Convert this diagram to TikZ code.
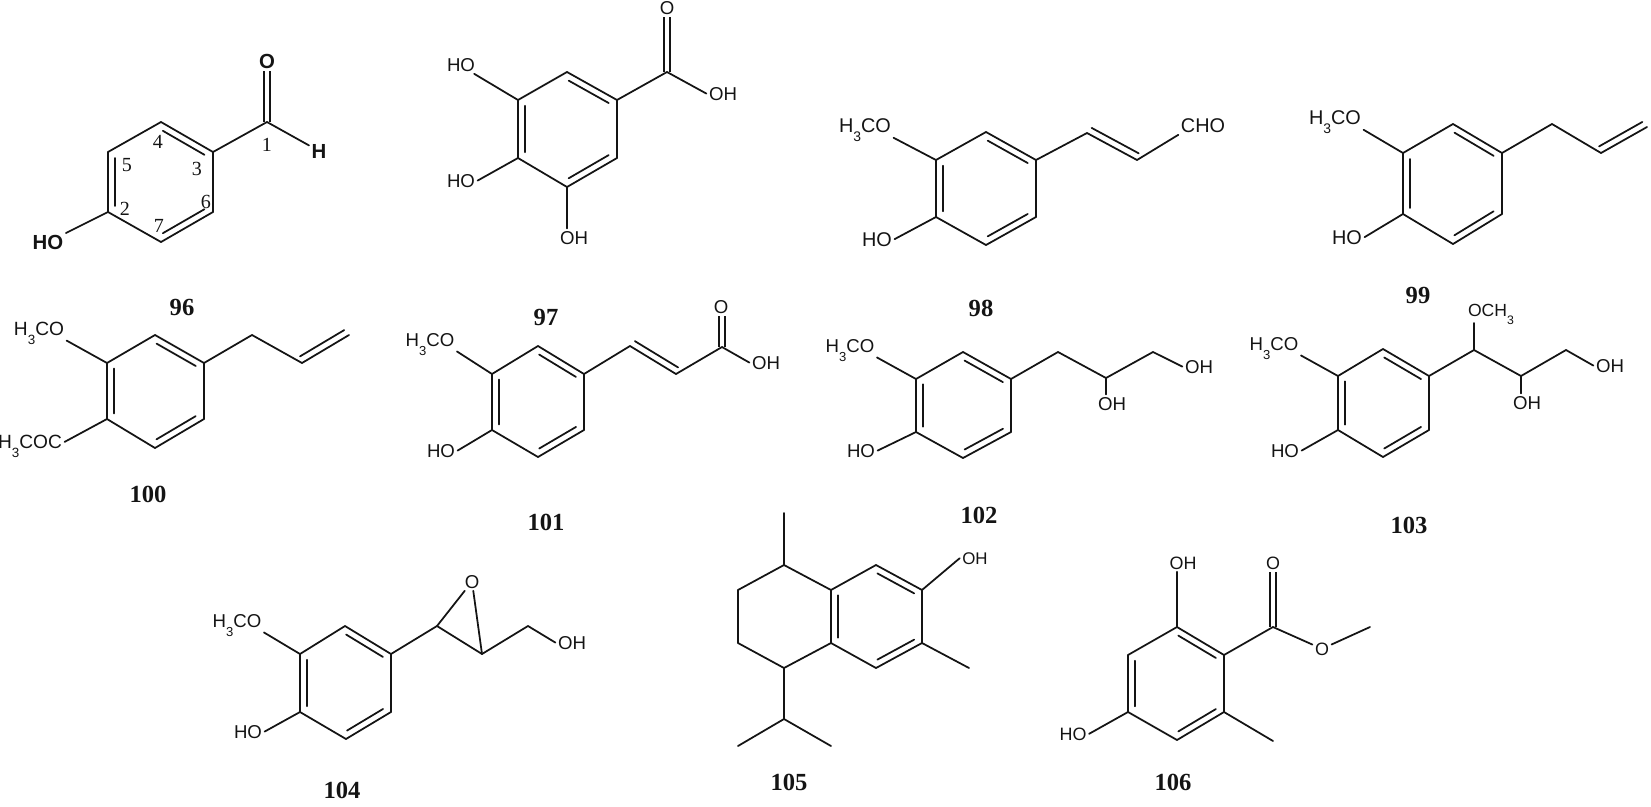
\documentclass[tikz,border=0pt]{standalone}
\usepackage{fontspec}
\setmainfont{Liberation Serif}
\setsansfont{Liberation Sans}
\usetikzlibrary{calc}

\newcommand{\lowthree}{\raisebox{-.5em}{\fontsize{\the\dimexpr.7em\relax}{1pt}\selectfont 3}}
\newcommand{\hco}{H\lowthree CO}
\newcommand{\inbond}[3][.1]{\draw ($(#2)!#1!(#3)!.134cm!-90:(#3)$) -- ($(#3)!#1!(#2)!.134cm!90:(#2)$);}

\begin{document}
\begin{tikzpicture}
  [x=.02cm,y=-.02cm,line width=1pt,line cap=round,color=black!92,
   atom/.style={anchor=base,inner sep=1pt,font=\sffamily\fontsize{#1}{12}\selectfont},
   atom/.default=10.6,
   boldatom/.style={atom=11.4,font=\sffamily\bfseries\fontsize{11.6}{12}\selectfont},
   ringnum/.style={inner sep=0pt,font=\fontsize{11.4}{12}\selectfont},
   compno/.style={inner sep=0pt,font=\bfseries\fontsize{14}{15}\selectfont},
   dblbond/.style={double,double distance=.099cm,line cap=butt}]
  \useasboundingbox (0,0) rectangle (1651,806);

  % ring and chain atoms
  \foreach \n/\x/\y in {A1/161/122,A2/213/152,A3/213/212,A4/161/242,A5/108/212,A6/108/152,A7/267/122}
    \coordinate (\n) at (\x,\y);
  \foreach \n/\x/\y in {B1/567/72,B2/617/100,B3/617/158,B4/567/187,B5/518/158,B6/518/100,B7/667/72}
    \coordinate (\n) at (\x,\y);
  \foreach \n/\x/\y in {C1/986/132,C2/1036/160,C3/1036/217,C4/986/245,C5/936/217,C6/936/160,C7/1087/133,C8/1137/160}
    \coordinate (\n) at (\x,\y);
  \foreach \n/\x/\y in {D1/1453/124,D2/1502/153,D3/1502/214,D4/1453/244,D5/1403/214,D6/1403/153,D7/1552/124,D8/1601/153,D9/1647/127}
    \coordinate (\n) at (\x,\y);
  \foreach \n/\x/\y in {E1/155/335,E2/204/363,E3/204/419,E4/155/448,E5/107/419,E6/107/363,E7/252/335,E8/302/363,E9/349/335}
    \coordinate (\n) at (\x,\y);
  \foreach \n/\x/\y in {F1/538/346,F2/584/374,F3/584/430,F4/538/457,F5/492/430,F6/492/374,F7/630/346,F8/676/374,F9/722/347}
    \coordinate (\n) at (\x,\y);
  \foreach \n/\x/\y in {G1/963/352,G2/1011/379,G3/1011/432,G4/963/458,G5/916/432,G6/916/379,G7/1058/352,G8/1106/378,G9/1153/352}
    \coordinate (\n) at (\x,\y);
  \foreach \n/\x/\y in {H1/1383/349,H2/1429/376,H3/1429/430,H4/1383/457,H5/1338/430,H6/1338/376,H7/1474/350,H8/1521/376,H9/1566/350,H10/1474/323}
    \coordinate (\n) at (\x,\y);
  \foreach \n/\x/\y in {I1/345/626,I2/391/654,I3/391/712,I4/346/739,I5/300/712,I6/300/654,I7/437/626,I8/482/654,I9/528/626}
    \coordinate (\n) at (\x,\y);
  \foreach \n/\x/\y in {J1/784/565,J2/831/590,J3/831/643,J4/784/668,J5/738/643,J6/738/590,J7/876/565,J8/922/590,J9/922/643,J10/876/668,J11/784/513,J12/969/668,J13/784/719,J14/738/746,J15/831/746}
    \coordinate (\n) at (\x,\y);
  \foreach \n/\x/\y in {K1/1177/627,K2/1224/655,K3/1224/712,K4/1177/740,K5/1128/712,K6/1128/655,K7/1273/627,K8/1370/627,K9/1273/741}
    \coordinate (\n) at (\x,\y);

  % atom labels
  \node[boldatom] (Ao) at (267,68) {O};
  \node[boldatom] (Ah) at (319,158) {H};
  \node[boldatom] (Aho) at (48,249) {HO};
  \node[atom] (Bo) at (667,14) {O};
  \node[atom] (Boh) at (723,100) {OH};
  \node[atom] (Bhoa) at (461,71) {HO};
  \node[atom] (Bhob) at (461,187) {HO};
  \node[atom] (Bohb) at (574,244) {OH};
  \node[atom=11.3] (Cmo) at (865,132) {\hco};
  \node[atom=11.3] (Cho) at (877,246) {HO};
  \node[atom=11.3] (Ccho) at (1203,132) {CHO};
  \node[atom=11.3] (Dmo) at (1335,124) {\hco};
  \node[atom=11.3] (Dho) at (1347,244) {HO};
  \node[atom=10.9] (Emo) at (39,335) {\hco};
  \node[atom=10.9] (Ex) at (30,448) {\hco C};
  \node[atom] (Fo) at (721,313) {O};
  \node[atom] (Foh) at (766,369) {OH};
  \node[atom] (Fmo) at (430,346) {\hco};
  \node[atom] (Fho) at (441,457) {HO};
  \node[atom] (Goh) at (1199,373) {OH};
  \node[atom] (Gohb) at (1112,410) {OH};
  \node[atom] (Gmo) at (850,352) {\hco};
  \node[atom] (Gho) at (861,457) {HO};
  \node[atom] (Hoh) at (1610,372) {OH};
  \node[atom] (Hohb) at (1527,409) {OH};
  \node[atom=10] (Hoch) at (1491,316) {OCH\lowthree};
  \node[atom] (Hmo) at (1274,350) {\hco};
  \node[atom] (Hho) at (1285,457) {HO};
  \node[atom] (Io) at (472,588) {O};
  \node[atom] (Ioh) at (572,649) {OH};
  \node[atom] (Imo) at (237,627) {\hco};
  \node[atom] (Iho) at (248,738) {HO};
  \node[atom=9.6] (Joh) at (975,564) {OH};
  \node[atom=10.2] (Koh) at (1183,569) {OH};
  \node[atom=10.2] (Ko) at (1273,569) {O};
  \node[atom=10.2] (Koe) at (1322,655) {O};
  \node[atom=10.2] (Kho) at (1073,740) {HO};

  % C=O bonds go first, the other bonds cover their ends
  \draw[dblbond] (A7) -- (A7 |- Ao.south);
  \draw[dblbond] (B7) -- (B7 |- Bo.south);
  \draw[dblbond] (F9) -- (F9 |- Fo.south);
  \draw[dblbond] (K7) -- (K7 |- Ko.south);

  \foreach \r in {A,B,C,D,E,F,G,H,I,K} {
    \foreach \from/\to in {1/2,2/3,3/4,4/5,5/6,6/1}
      \draw (\r\from) -- (\r\to);
    \foreach \from/\to in {1/2,3/4,5/6}
      {\inbond{\r\from}{\r\to}}
  }
  \foreach \from/\to in {J1/J2,J2/J3,J3/J4,J4/J5,J5/J6,J6/J1,J2/J7,J7/J8,J8/J9,J9/J10,J10/J3}
    \draw (\from) -- (\to);
  \foreach \from/\to in {J7/J8,J9/J10,J3/J2}
    {\inbond{\from}{\to}}
  \foreach \from/\to in {C8/C7,D9/D8,E9/E8,F8/F7}
    {\inbond[.03]{\from}{\to}}

  % substituents
  \foreach \from/\to in {A2/A7,A7/Ah,A5/Aho,
      B2/B7,B7/Boh.west,B6/Bhoa.-35,B5/Bhob.east,
      C2/C7,C7/C8,C8/Ccho.south west,C6/Cmo.-15,C5/Cho.east,
      D2/D7,D7/D8,D8/D9,D6/Dmo.-15,D5/Dho.east,
      E2/E7,E7/E8,E8/E9,E6/Emo.-15,E5/Ex.7,
      F2/F7,F7/F8,F8/F9,F9/Foh.west,F6/Fmo.-15,F5/Fho.east,
      G2/G7,G7/G8,G8/G9,G9/Goh.west,G6/Gmo.-15,G5/Gho.east,
      H2/H7,H7/H8,H8/H9,H9/Hoh.west,H7/H10,H6/Hmo.-15,H5/Hho.east,
      I2/I7,I7/I8,I8/I9,I9/Ioh.west,I7/Io,I8/Io,I6/Imo.-15,I5/Iho.east,
      J1/J11,J9/J12,J4/J13,J13/J14,J13/J15,J8/Joh.west,
      K2/K7,K7/Koe,Koe/K8,K3/K9,K5/Kho.east}
    \draw (\from) -- (\to);
  \draw (B4) -- (B4 |- Bohb.north);
  \draw (G8) -- (G8 |- Gohb.north);
  \draw (H8) -- (H8 |- Hohb.north);
  \draw (K1) -- (K1 |- Koh.south);

  % numbering of compound 96 and compound numbers
  \foreach \t/\x/\y in {1/267/145,2/125/209,3/197/169,4/158/142,5/127/165,6/206/202,7/159/226}
    \node[ringnum] (n\t) at (\x,\y) {\t};
  \foreach \t/\x/\y in {96/182/307,97/546/317,98/981/308,99/1418/295,100/148/494,101/546/522,102/979/515,103/1409/525,104/342/790,105/789/782,106/1173/782}
    \node[compno] (c\t) at (\x,\y) {\t};
\end{tikzpicture}
\end{document}
